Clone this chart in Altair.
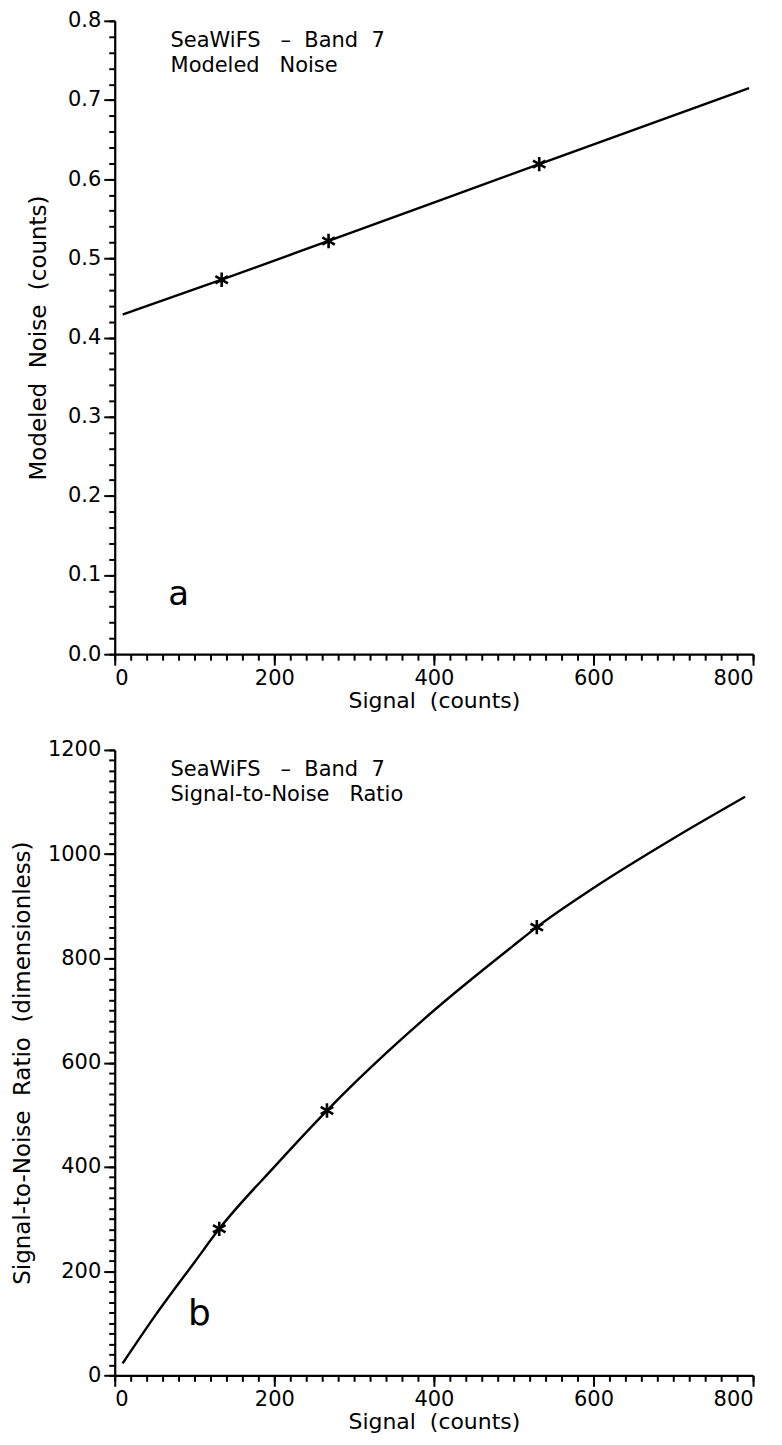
import altair as alt
import pandas as pd

# ---- data ----
noise_signal = [10, 134, 268, 532, 795]
noise_value = [0.429, 0.473, 0.522, 0.619, 0.715]
noise_star_signal = [134, 268, 532]
noise_star_value = [0.473, 0.522, 0.619]

snr_signal = [10, 50, 100, 131, 200, 266, 300, 400, 500, 529, 600, 700, 790]
snr_value = [23, 113, 217, 281, 400, 508, 560, 700, 825, 860, 935, 1030, 1110]
snr_star_signal = [131, 266, 529]
snr_star_value = [281, 508, 860]

x_major = [0, 200, 400, 600, 800]
x_minor = list(range(0, 801, 20))
noise_major = [0.0, 0.1, 0.2, 0.3, 0.4, 0.5, 0.6, 0.7, 0.8]
noise_minor = [round(i * 0.02, 2) for i in range(41)]
snr_major = [0, 200, 400, 600, 800, 1000, 1200]
snr_minor = list(range(0, 1201, 20))

S2 = "\u00a0\u00a0"
S3 = "\u00a0\u00a0\u00a0"
x_title = "Signal" + S2 + "(counts)"
noise_title = "Modeled" + S2 + "Noise" + S2 + "(counts)"
snr_title = "Signal-to-Noise" + S2 + "Ratio" + S2 + "(dimensionless)"
noise_note = ["SeaWiFS" + S3 + "–" + S2 + "Band" + S2 + "7", "Modeled" + S3 + "Noise"]
snr_note = ["SeaWiFS" + S3 + "–" + S2 + "Band" + S2 + "7", "Signal-to-Noise" + S3 + "Ratio"]

FONT = "DejaVu Sans"
STAR = "M0,-1L0,1M-0.866,-0.5L0.866,0.5M-0.866,0.5L0.866,-0.5"


def panel(sig, val, ssig, sval, ytitle, ydomain, ymajor, yminor, yfmt, ytpad,
          note, letter, letter_pos, letter_size, h):
    line_df = pd.DataFrame({"signal": sig, "value": val})
    star_df = pd.DataFrame({"signal": ssig, "value": sval})
    xscale = alt.Scale(domain=[0, 800], nice=False, zero=False)
    yscale = alt.Scale(domain=ydomain, nice=False, zero=False)
    major_x = alt.Axis(values=x_major, title=x_title, orient="bottom",
                       tickSize=11, tickWidth=2, domainWidth=2.2, labelFontSize=21,
                       titleFontSize=22, labelPadding=2, titlePadding=2, format="d")
    major_y = alt.Axis(values=ymajor, title=ytitle, orient="left", format=yfmt,
                       tickSize=11, tickWidth=2, domainWidth=2.2, labelFontSize=21,
                       titleFontSize=23, labelPadding=3, titlePadding=ytpad)
    minor_x = alt.Axis(values=x_minor, title=None, orient="bottom", labels=False,
                       domain=False, tickSize=6, tickWidth=2)
    minor_y = alt.Axis(values=yminor, title=None, orient="left", labels=False,
                       domain=False, tickSize=6, tickWidth=2)

    line = alt.Chart(line_df).mark_line(color="black", strokeWidth=2.4, interpolate="monotone").encode(
        x=alt.X("signal:Q", scale=xscale, axis=major_x),
        y=alt.Y("value:Q", scale=yscale, axis=major_y),
    )
    minor = alt.Chart(line_df).mark_point(opacity=0).encode(
        x=alt.X("signal:Q", scale=xscale, axis=minor_x),
        y=alt.Y("value:Q", scale=yscale, axis=minor_y),
    )
    stars = alt.Chart(star_df).mark_point(shape=STAR, size=210, color="black",
                                          strokeWidth=2.6, filled=False, opacity=1).encode(
        x=alt.X("signal:Q", scale=xscale, axis=None),
        y=alt.Y("value:Q", scale=yscale, axis=None),
    )
    one = pd.DataFrame({"k": [0]})
    note_txt = alt.Chart(one).mark_text(text=note, align="left", baseline="top",
                                        font=FONT, fontSize=21, lineHeight=25,
                                        color="black").encode(
        x=alt.value(56), y=alt.value(9))
    letter_txt = alt.Chart(one).mark_text(text=letter, align="center", baseline="middle",
                                          font=FONT, fontSize=letter_size, color="black").encode(
        x=alt.value(letter_pos[0]), y=alt.value(letter_pos[1]))
    return alt.layer(line, minor, stars, note_txt, letter_txt).resolve_axis(
        x="independent", y="independent").properties(width=640, height=h)


top = panel(noise_signal, noise_value, noise_star_signal, noise_star_value,
            noise_title, [0, 0.8], noise_major, noise_minor, ".1f", 17,
            noise_note, "a", (64, 576), 34, 635)
bottom = panel(snr_signal, snr_value, snr_star_signal, snr_star_value,
               snr_title, [0, 1200], snr_major, snr_minor, "d", 13,
               snr_note, "b", (85, 566), 36, 627)

chart = alt.vconcat(top, bottom, spacing=28).configure(
    font=FONT, padding={"left": 3, "top": 0, "right": 20, "bottom": 5}
).configure_view(stroke=None).configure_axis(
    domainColor="black", tickColor="black", labelColor="black", titleColor="black",
    labelFont=FONT, titleFont=FONT, titleFontWeight="normal", grid=False
)

chart.save("out.html", embed_options={"renderer": "svg", "actions": False})
